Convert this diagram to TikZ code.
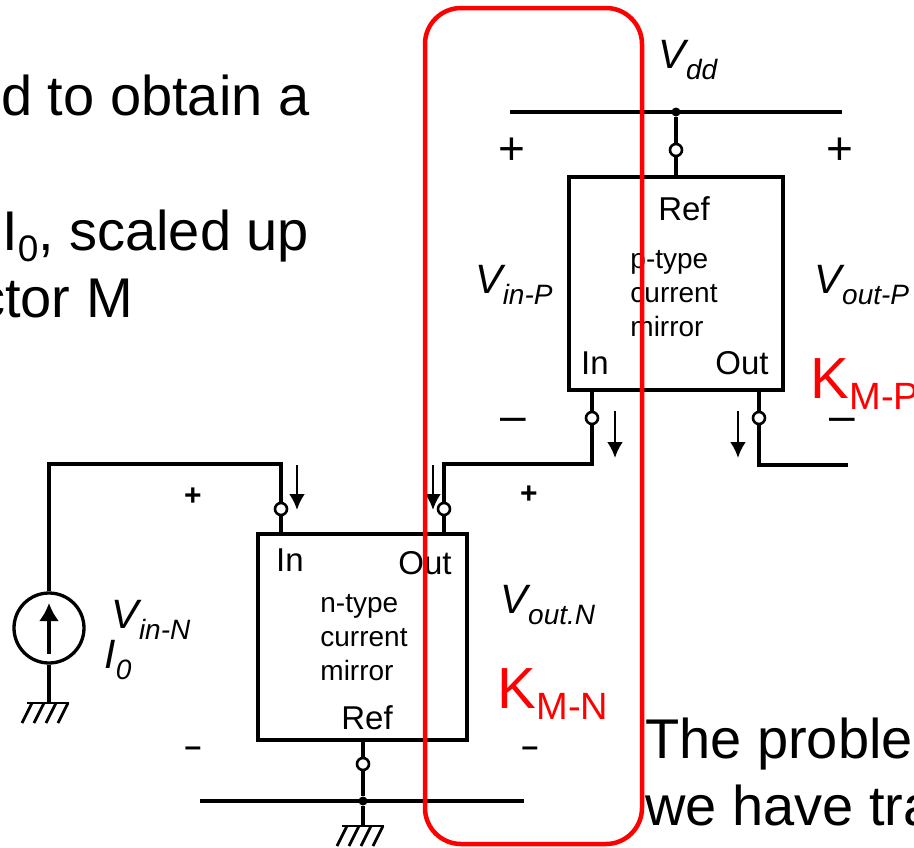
\documentclass[tikz,border=0pt]{standalone}
\usepackage{fontspec}
\setmainfont{Liberation Sans}
\usetikzlibrary{arrows.meta}
\tikzset{> = Latex,
	wire/.style={line width=3.3pt},
	thin wire/.style={line width=2.8pt},
	ring/.style={circle,draw,line width=2.6pt,fill=white,inner sep=0pt,minimum size=12pt},
	joint/.style={circle,fill=black,inner sep=0pt,minimum size=9pt},
	block/.style={draw,line width=3.2pt,inner sep=0pt,outer sep=0pt,minimum width=#1,anchor=north west},
	slide/.style={font=\fontsize{56}{60}\selectfont,anchor=base west,inner sep=0pt},
	pin/.style={font=\fontsize{33}{36}\selectfont,inner sep=0pt},
	small/.style={font=\fontsize{28}{34}\selectfont,align=left,inner sep=0pt},
	volt/.style={font=\fontsize{41}{46}\selectfont\itshape,inner sep=0pt},
	sign/.style={font=\fontsize{46}{46}\selectfont,inner sep=0pt},
	tiny sign/.style={font=\fontsize{30}{30}\selectfont\bfseries,inner sep=0pt},
	gain/.style={font=\fontsize{58}{60}\selectfont,text=red,inner sep=0pt}}
\newcommand{\sublabel}[2]{#1\raisebox{-.28em}{\fontsize{28}{30}\selectfont #2}}
\newcommand{\gainlabel}[2]{#1\raisebox{-.2em}{\fontsize{38}{40}\selectfont #2}}
\begin{document}
\begin{tikzpicture}[x=1pt,y=-1pt]
	\useasboundingbox (0,0) rectangle (914,847);
	\clip (0,0) rectangle (914,847);
	% slide text
	\node[slide] (lineA) at (1,115) {d to obtain a};
	\node[slide] (lineB) at (2,250) {I\raisebox{-.2em}{\fontsize{37}{37}\selectfont 0}, scaled up};
	\node[slide] (lineC) at (-23,317) {ctor M};
	\node[slide] (lineD) at (645,758) {The problem};
	\node[slide] (lineE) at (645,825) {we have transistors};
	% p-type mirror
	\node[block=214pt,minimum height=213pt] (boxP) at (569,177) {};
	\node[joint] (topJoint) at (676,112) {};
	\node[ring] (refP) at (676,150) {};
	\node[ring] (inP) at (592,418) {};
	\node[ring] (outP) at (759,418) {};
	\coordinate (railA) at (510,112);
	\coordinate (railB) at (842,112);
	\coordinate (refPbox) at (676,177);
	\coordinate (inPbox) at (592,390);
	\coordinate (outPbox) at (759,390);
	\coordinate (outEnd) at (848,465);
	\draw[wire] (railA)--(railB);
	\draw[wire] (topJoint)--(refP)--(refPbox);
	\draw[wire] (outPbox)--(outP)--(759,465)--(outEnd);
	\node[pin] (refPtext) at (684,209) {Ref};
	\node[small] (nameP) at (674,294) {p-type\\current\\mirror};
	\node[pin] (inPtext) at (595,363) {In};
	\node[pin] (outPtext) at (742,363) {Out};
	% n-type mirror
	\node[block=209pt,minimum height=206pt] (boxN) at (258,534) {};
	\node[ring] (inN) at (281,509) {};
	\node[ring] (outN) at (444,509) {};
	\node[ring] (refN) at (363,764) {};
	\node[joint] (lowJoint) at (363,801) {};
	\coordinate (inNbox) at (281,534);
	\coordinate (outNbox) at (444,534);
	\coordinate (refNbox) at (363,740);
	\coordinate (railC) at (200,801);
	\coordinate (railD) at (524,801);
	\draw[wire] (railC)--(railD);
	\draw[wire] (refNbox)--(refN)--(lowJoint)--(363,826);
	\draw[wire] (inPbox)--(inP)--(592,464)--(444,464)--(outN)--(outNbox);
	\node[pin] (inNtext) at (290,560) {In};
	\node[pin] (outNtext) at (425,563) {Out};
	\node[small] (nameN) at (364,638) {n-type\\current\\mirror};
	\node[pin] (refNtext) at (367,718) {Ref};
	% source
	\node[circle,draw,line width=3.3pt,inner sep=0pt,minimum size=70pt] (source) at (49,628) {};
	\draw[wire] (source)--(49,464)--(281,464)--(inN)--(inNbox);
	\draw[wire] (source)--(49,703);
	\draw[wire,-{Latex[length=18pt,width=20pt]}] (49,654)--(49,603);
	% ground
	\draw[thin wire] (27,703)--(69,703);
	\foreach \x in {32,44,56,68}
		\draw[thin wire] (\x,703)--+(-10,20);
	\draw[thin wire] (342,826)--(384,826);
	\foreach \x in {347,359,371,383}
		\draw[thin wire] (\x,826)--+(-10,20);
	% current arrows
	\foreach \x/\ya/\yb in {297/465/510,433/465/510,615/411/458,738/411/458}
		\draw[thin wire,-{Latex[length=16pt,width=16pt]}] (\x,\ya)--(\x,\yb);
	% signs
	\node[sign] (plusA) at (512,151) {+};
	\node[sign] (plusB) at (840,151) {+};
	\node[sign] (minusA) at (513,425) {–};
	\node[sign] (minusB) at (842,425) {–};
	\node[tiny sign] (plusC) at (193,497) {+};
	\node[tiny sign] (plusD) at (529,495) {+};
	\node[tiny sign] (minusC) at (193,752) {–};
	\node[tiny sign] (minusD) at (530,752) {–};
	% voltages
	\node[volt] (vdd) at (688,60) {\sublabel{V}{dd}};
	\node[volt] (vinP) at (514,285) {\sublabel{V}{in-P}};
	\node[volt] (voutP) at (862,285) {\sublabel{V}{out-P}};
	\node[volt] (vinN) at (151,620) {\sublabel{V}{in-N}};
	\node[volt] (vzero) at (118,660) {\sublabel{I}{0}};
	\node[volt] (voutN) at (548,605) {\sublabel{V}{out.N}};
	\node[gain] (gainP) at (865,384) {\gainlabel{K}{M-P}};
	\node[gain] (gainN) at (553,694) {\gainlabel{K}{M-N}};
	% red frame
	\draw[red,line width=4.5pt,rounded corners=36pt] (425,8) rectangle (642,844);
\end{tikzpicture}
\end{document}
